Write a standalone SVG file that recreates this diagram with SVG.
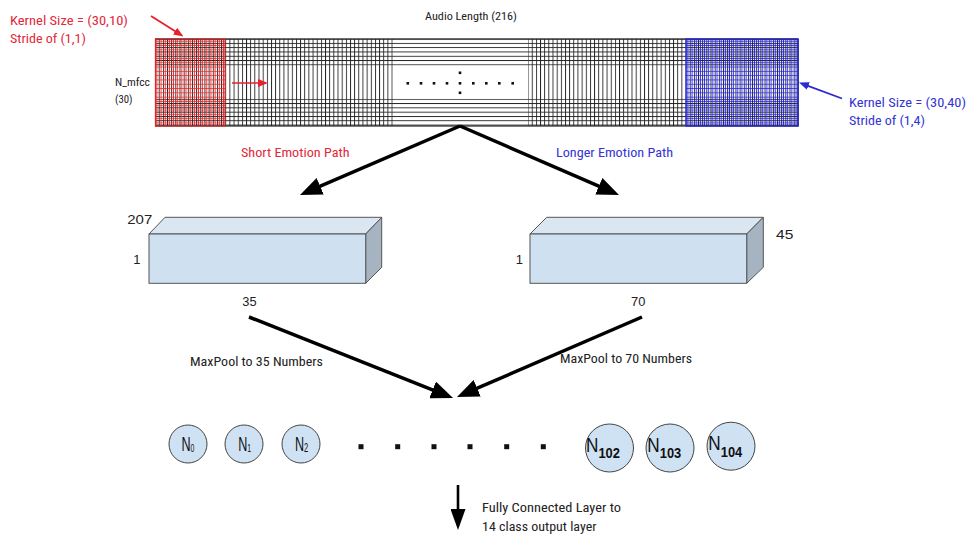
<svg xmlns="http://www.w3.org/2000/svg" width="969" height="535" viewBox="0 0 969 535">
<style>
.t{font-family:"Liberation Sans Narrow","Roboto Condensed","Liberation Sans",Roboto,sans-serif;fill:#222}
.n{font-family:"Liberation Sans","Roboto",sans-serif;fill:#222;font-size:13px}
.red{fill:#e3283a}
.blue{fill:#3434d4}
.big{stroke:#000;stroke-width:3.5;fill:none}
.face{stroke:#555;stroke-width:1}
.circ{fill:#cfe2f3;stroke:#444;stroke-width:1}
.nl{font-family:"Liberation Sans",sans-serif;fill:#111}
.sb{font-weight:bold}
</style>
<defs>
<marker id="ah" markerUnits="userSpaceOnUse" viewBox="0 0 22 18" markerWidth="22" markerHeight="18" refX="10" refY="9" orient="auto"><path d="M0,0 L22,9 L0,18 z" fill="#000"/></marker>
<marker id="ahd" markerUnits="userSpaceOnUse" viewBox="0 0 21 15" markerWidth="21" markerHeight="15" refX="9" refY="7.5" orient="auto"><path d="M0,0 L21,7.5 L0,15 z" fill="#000"/></marker>
<marker id="ahr" markerUnits="userSpaceOnUse" viewBox="0 0 10 8" markerWidth="10" markerHeight="8" refX="4" refY="4" orient="auto"><path d="M0,0 L10,4 L0,8 z" fill="#e8202a"/></marker>
<marker id="ahb" markerUnits="userSpaceOnUse" viewBox="0 0 10 8" markerWidth="10" markerHeight="8" refX="4" refY="4" orient="auto"><path d="M0,0 L10,4 L0,8 z" fill="#2a2ad0"/></marker>
<pattern id="vl1" patternUnits="userSpaceOnUse" x="154.6" y="0" width="4.158" height="10"><rect x="0" y="0" width="0.9" height="10" fill="#222"/></pattern>
<pattern id="vl2" patternUnits="userSpaceOnUse" x="527.6" y="0" width="4.158" height="10"><rect x="0" y="0" width="0.9" height="10" fill="#222"/></pattern>
<pattern id="hl" patternUnits="userSpaceOnUse" x="0" y="38.6" width="10" height="4.3"><rect x="0" y="0" width="10" height="0.9" fill="#222"/></pattern>
<pattern id="vr" patternUnits="userSpaceOnUse" x="156.5" y="0" width="4.158" height="10"><rect x="0" y="0" width="0.8" height="10" fill="#ee2020"/></pattern>
<pattern id="hr" patternUnits="userSpaceOnUse" x="0" y="40.8" width="10" height="4.3"><rect x="0" y="0" width="10" height="0.8" fill="#ee2020" fill-opacity="0.85"/></pattern>
<pattern id="vb" patternUnits="userSpaceOnUse" x="529.5" y="0" width="4.158" height="10"><rect x="0" y="0" width="0.8" height="10" fill="#2020e8"/></pattern>
<pattern id="hb" patternUnits="userSpaceOnUse" x="0" y="40.8" width="10" height="4.3"><rect x="0" y="0" width="10" height="0.8" fill="#2020e8" fill-opacity="0.85"/></pattern>
</defs>
<rect width="969" height="535" fill="#fff"/>

<g id="input-grid">
<rect x="155" y="39" width="237.8" height="87" fill="url(#vl1)"/>
<rect x="528" y="39" width="270.6" height="87" fill="url(#vl2)"/>
<rect x="155" y="38.6" width="643" height="27" fill="url(#hl)"/>
<rect x="155" y="98.8" width="643" height="27.2" fill="url(#hl)"/>
<rect x="155" y="39" width="70" height="87" fill="#ff3030" fill-opacity="0.05"/>
<rect x="155" y="39" width="70" height="87" fill="url(#vr)"/>
<rect x="155" y="39" width="70" height="87" fill="url(#hr)"/>
<rect x="686" y="39" width="112" height="87" fill="#3030ff" fill-opacity="0.07"/>
<rect x="686" y="39" width="112" height="87" fill="url(#vb)"/>
<rect x="686" y="39" width="112" height="87" fill="url(#hb)"/>
<rect x="155.5" y="39" width="642.5" height="87" fill="none" stroke="#222" stroke-width="1.2"/>
<rect x="155.5" y="39" width="69.5" height="87" fill="none" stroke="#ee2020" stroke-width="1"/>
<rect x="686" y="39" width="112" height="87" fill="none" stroke="#2020e8" stroke-width="1.2"/>
<g fill="#111">
<rect x="406.5" y="82" width="2.6" height="2.6"/>
<rect x="419.7" y="82" width="2.6" height="2.6"/>
<rect x="432.7" y="82" width="2.6" height="2.6"/>
<rect x="445.7" y="82" width="2.6" height="2.6"/>
<rect x="458.7" y="82" width="2.6" height="2.6"/>
<rect x="472" y="82" width="2.6" height="2.6"/>
<rect x="485" y="82" width="2.6" height="2.6"/>
<rect x="498" y="82" width="2.6" height="2.6"/>
<rect x="511.4" y="82" width="2.6" height="2.6"/>
<rect x="458.7" y="71.5" width="2.6" height="2.6"/>
<rect x="458.7" y="91.5" width="2.6" height="2.6"/>
</g>
<text class="t" x="425" y="20" font-size="11.5" textLength="92" lengthAdjust="spacingAndGlyphs">Audio Length (216)</text>
<text class="t" x="115" y="86" font-size="10.5" textLength="35" lengthAdjust="spacingAndGlyphs">N_mfcc</text>
<text class="t" x="115" y="102.5" font-size="10.5" textLength="17.5" lengthAdjust="spacingAndGlyphs">(30)</text>
</g>

<g id="kernel-short">
<text class="t red" x="10" y="25" font-size="13.5" textLength="118" lengthAdjust="spacingAndGlyphs">Kernel Size = (30,10)</text>
<text class="t red" x="10" y="43" font-size="13.5" textLength="76" lengthAdjust="spacingAndGlyphs">Stride of (1,1)</text>
</g>
<g id="kernel-long">
<text class="t blue" x="849" y="107" font-size="13.5" textLength="117" lengthAdjust="spacingAndGlyphs">Kernel Size = (30,40)</text>
<text class="t blue" x="849" y="125" font-size="13.5" textLength="76" lengthAdjust="spacingAndGlyphs">Stride of (1,4)</text>
</g>

<g id="connectors">
<line x1="151" y1="16" x2="178.4" y2="33.3" stroke="#e8202a" stroke-width="1.8" marker-end="url(#ahr)"/>
<line x1="232" y1="83" x2="262" y2="83" stroke="#e8202a" stroke-width="1.5" marker-end="url(#ahr)"/>
<line x1="842" y1="98.5" x2="804.6" y2="84.6" stroke="#2a2ad0" stroke-width="1.8" marker-end="url(#ahb)"/>
<line class="big" x1="460" y1="126" x2="311" y2="190.2" marker-end="url(#ah)"/>
<line class="big" x1="460" y1="126" x2="608" y2="190.2" marker-end="url(#ah)"/>
<line class="big" x1="249" y1="317" x2="441.9" y2="393.6" marker-end="url(#ah)"/>
<line class="big" x1="642" y1="317" x2="468" y2="392.2" marker-end="url(#ah)"/>
<line x1="458" y1="485" x2="458" y2="518" stroke="#000" stroke-width="2.6" marker-end="url(#ahd)"/>
<text class="t red" x="241" y="157" font-size="13" textLength="108.5" lengthAdjust="spacingAndGlyphs">Short Emotion Path</text>
<text class="t blue" x="556" y="157" font-size="13" textLength="117" lengthAdjust="spacingAndGlyphs">Longer Emotion Path</text>
<text class="t" x="190" y="365.5" font-size="12.5" textLength="133" lengthAdjust="spacingAndGlyphs">MaxPool to 35 Numbers</text>
<text class="t" x="560" y="363" font-size="12.5" textLength="132" lengthAdjust="spacingAndGlyphs">MaxPool to 70 Numbers</text>
<text class="t" x="482" y="511.5" font-size="12.5" textLength="139" lengthAdjust="spacingAndGlyphs">Fully Connected Layer to</text>
<text class="t" x="482" y="530.5" font-size="12.5" textLength="114.5" lengthAdjust="spacingAndGlyphs">14 class output layer</text>
</g>

<g id="box-short">
<polygon class="face" points="149,234 165,217.3 381.7,217.3 365.7,234" fill="#dae7f3"/>
<polygon class="face" points="365.7,234 381.7,217.3 381.7,267.3 365.7,283.3" fill="#a5b4c0"/>
<rect class="face" x="149" y="234" width="216.7" height="49.3" fill="#cfe1f0"/>
<text class="n" x="127.3" y="224" textLength="25" lengthAdjust="spacingAndGlyphs">207</text>
<text class="n" x="133.3" y="264.3">1</text>
<text class="n" x="242.3" y="305.6" textLength="14.3" lengthAdjust="spacingAndGlyphs">35</text>
</g>
<g id="box-long">
<polygon class="face" points="530,234 546.7,217.3 763.3,217.3 746.7,234" fill="#dae7f3"/>
<polygon class="face" points="746.7,234 763.3,217.3 763.3,267.3 746.7,283.3" fill="#a5b4c0"/>
<rect class="face" x="530" y="234" width="216.7" height="49.3" fill="#cfe1f0"/>
<text class="n" x="515.7" y="264.3">1</text>
<text class="n" x="776" y="239" textLength="17.3" lengthAdjust="spacingAndGlyphs">45</text>
<text class="n" x="631" y="305.6" textLength="14.3" lengthAdjust="spacingAndGlyphs">70</text>
</g>

<g id="node-n0"><circle class="circ" cx="188" cy="444" r="19"/><text class="nl" transform="translate(181.5,450.7) scale(0.63,1)" font-size="20">N<tspan font-size="11" dy="1">0</tspan></text></g>
<g id="node-n1"><circle class="circ" cx="244" cy="444" r="19"/><text class="nl" transform="translate(238.2,450.7) scale(0.63,1)" font-size="20">N<tspan font-size="11" dy="1">1</tspan></text></g>
<g id="node-n2"><circle class="circ" cx="301" cy="444" r="19"/><text class="nl" transform="translate(294.9,450.7) scale(0.63,1)" font-size="20">N<tspan font-size="12" dy="1.3">2</tspan></text></g>
<g id="ellipsis" fill="#111">
<rect x="358.5" y="444.2" width="5" height="5"/>
<rect x="395.2" y="444.2" width="5" height="5"/>
<rect x="431.5" y="444.2" width="5" height="5"/>
<rect x="467.5" y="444.2" width="5" height="5"/>
<rect x="504.2" y="444.2" width="5" height="5"/>
<rect x="540.8" y="444.2" width="5" height="5"/>
</g>
<g id="node-n102"><circle class="circ" cx="609.5" cy="448" r="24"/><text class="nl" transform="translate(586,451.7) scale(0.86,1)" font-size="20">N<tspan class="sb" font-size="15" dy="6.6">102</tspan></text></g>
<g id="node-n103"><circle class="circ" cx="670" cy="448" r="24"/><text class="nl" transform="translate(647.3,451.7) scale(0.86,1)" font-size="20">N<tspan class="sb" font-size="15" dy="6.6">103</tspan></text></g>
<g id="node-n104"><circle class="circ" cx="731" cy="446.2" r="24"/><text class="nl" transform="translate(708.3,450) scale(0.86,1)" font-size="20">N<tspan class="sb" font-size="15" dy="6.7">104</tspan></text></g>
</svg>
